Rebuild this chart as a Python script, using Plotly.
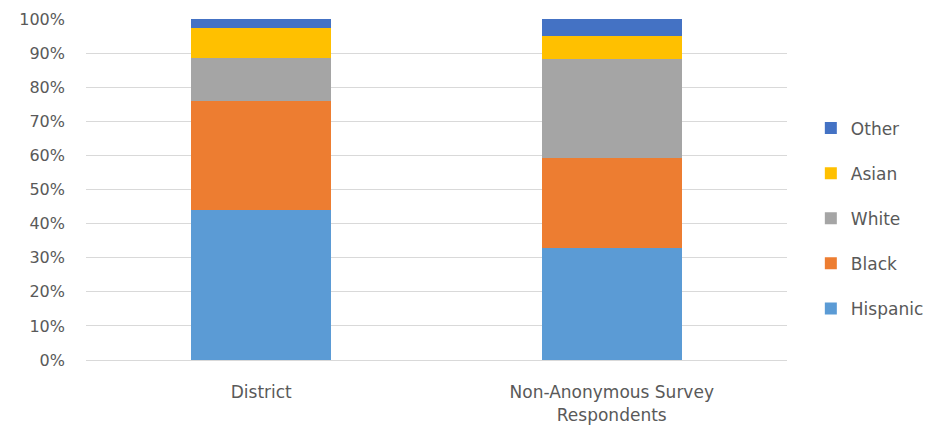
import plotly.graph_objects as go

# Share of each group (percent) for the two populations
categories = ["District", "Non-Anonymous Survey<br>Respondents"]
hispanic = [44.0, 32.9]
black = [31.9, 26.4]
white = [12.7, 29.1]
asian = [8.7, 6.6]
other = [2.7, 5.0]

series = [
    ("Hispanic", hispanic, "#5B9BD5"),
    ("Black", black, "#ED7D31"),
    ("White", white, "#A5A5A5"),
    ("Asian", asian, "#FFC000"),
    ("Other", other, "#4472C4"),
]

fig = go.Figure()
n = len(series)
for i, (name, vals, color) in enumerate(series):
    fig.add_trace(go.Bar(
        x=categories,
        y=[v / 100 for v in vals],
        name=name,
        legendgroup=name,
        legendrank=n - i,
        marker=dict(color=color, line=dict(width=0)),
        width=0.4,
        hovertemplate="%{x}<br>" + name + ": %{y:.1%}<extra></extra>",
    ))

font_family = "DejaVu Sans, sans-serif"
text_color = "#595959"
fig.update_layout(
    barmode="stack",
    width=942,
    height=430,
    margin=dict(l=86, r=155, t=19, b=70, autoexpand=False),
    paper_bgcolor="white",
    plot_bgcolor="white",
    font=dict(family=font_family, size=16, color=text_color),
    xaxis=dict(
        showgrid=False,
        showline=True,
        linecolor="#D9D9D9",
        linewidth=1,
        ticks="",
        ticklabelstandoff=17,
        tickfont=dict(size=17, color=text_color),
        range=[-0.5, 1.5],
    ),
    yaxis=dict(
        range=[0, 1],
        dtick=0.1,
        tickformat=".0%",
        showgrid=True,
        gridcolor="#D9D9D9",
        gridwidth=1,
        zeroline=False,
        ticks="",
        ticklabelstandoff=20,
        tickfont=dict(size=16, color=text_color),
    ),
    legend=dict(
        traceorder="grouped",
        tracegroupgap=20,
        x=1.034,
        xanchor="left",
        y=0.415,
        yanchor="middle",
        font=dict(size=17, color=text_color),
        itemwidth=30,
    ),
    showlegend=True,
)

fig.write_html("out.html")
